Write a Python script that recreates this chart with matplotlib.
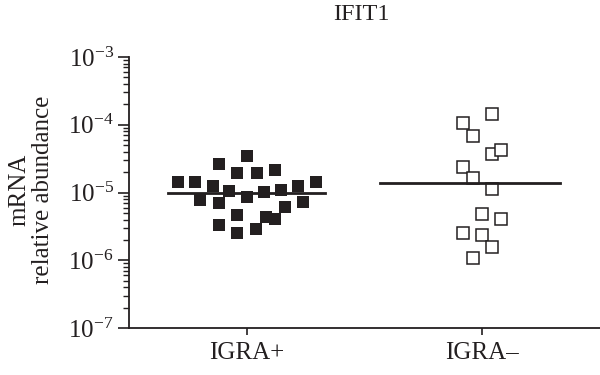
import matplotlib
matplotlib.use("Agg")
import matplotlib.pyplot as plt
import numpy as np
from matplotlib.ticker import LogLocator, NullFormatter, FixedLocator, FixedFormatter

SERIF = 'Liberation Serif'
plt.rcParams['font.family'] = [SERIF, 'DejaVu Serif']
plt.rcParams['mathtext.fontset'] = 'custom'
plt.rcParams['mathtext.rm'] = SERIF
plt.rcParams['mathtext.it'] = SERIF + ':italic'
plt.rcParams['mathtext.default'] = 'rm'

categories = ["IGRA+", "IGRA\u2013"]
title = "IFIT1"
ylabel = "mRNA\nrelative abundance"
ytick_exponents = [-7, -6, -5, -4, -3]

# IGRA+ group (filled squares)
igra_pos_vals = [1.44e-5, 1.44e-5, 1.25e-5, 7.7e-6, 2.64e-5, 6.9e-6, 3.49e-5, 1.96e-5,
                 1.05e-5, 4.66e-6, 3.31e-6, 2.50e-6, 8.67e-6, 1.96e-5, 2.15e-5, 1.01e-5,
                 1.09e-5, 2.86e-6, 4.40e-6, 4.06e-6, 6.17e-6, 7.16e-6, 1.25e-5, 1.44e-5]
igra_pos_jitter = [-0.293, -0.219, -0.144, -0.198, -0.118, -0.118, 0.003, -0.040,
                   -0.074, -0.040, -0.118, -0.040, 0.0, 0.042, 0.120, 0.073,
                   0.147, 0.039, 0.082, 0.120, 0.161, 0.240, 0.219, 0.293]

# IGRA- group (open squares)
igra_neg_vals = [1.44e-4, 1.07e-4, 6.82e-5, 3.70e-5, 4.24e-5, 2.35e-5, 1.65e-5,
                 1.13e-5, 4.82e-6, 4.06e-6, 2.55e-6, 2.36e-6, 1.59e-6, 1.09e-6]
igra_neg_jitter = [0.040, -0.081, -0.041, 0.040, 0.079, -0.081, -0.041,
                   0.040, 0.0, 0.079, -0.081, 0.0, 0.040, -0.041]

medians = [1.0e-5, 1.40e-5]
median_spans = [(-0.334, 0.333), (-0.434, 0.33)]

INK = '#231f20'
FS = 18

fig = plt.figure(figsize=(6, 3.75), dpi=100)
ax = fig.add_axes([0.215, 0.125, 0.785, 0.723])

xs1 = 1 + np.array(igra_pos_jitter)
xs2 = 2 + np.array(igra_neg_jitter)
ax.plot(xs1, igra_pos_vals, 's', color=INK, markersize=9, markeredgewidth=0,
        linestyle='none', zorder=3)
ax.plot(xs2, igra_neg_vals, 's', markerfacecolor='white', markeredgecolor=INK,
        markersize=9, markeredgewidth=1.1, linestyle='none', zorder=3)

for i, (m, (a, b)) in enumerate(zip(medians, median_spans)):
    ax.plot([i + 1 + a, i + 1 + b], [m, m], color=INK, linewidth=2.0, zorder=4)

ax.set_yscale('log')
ax.set_ylim(1e-7, 1e-3)
ax.set_xlim(0.5, 2.5)
ax.set_xticks([1, 2])
ax.set_xticklabels(categories, fontsize=FS, family=SERIF, color=INK)
ax.yaxis.set_major_locator(FixedLocator([10.0 ** e for e in ytick_exponents]))
ax.yaxis.set_major_formatter(FixedFormatter([r'$10^{%d}$' % e for e in ytick_exponents]))
ax.yaxis.set_minor_locator(LogLocator(base=10, subs=np.arange(2, 10), numticks=20))
ax.yaxis.set_minor_formatter(NullFormatter())
ax.tick_params(axis='y', which='major', length=8, width=1.2, labelsize=FS, pad=3,
               color=INK, labelcolor=INK)
ax.tick_params(axis='y', which='minor', length=4.5, width=1.0, color=INK)
ax.tick_params(axis='x', which='major', length=5, width=1.2, labelsize=FS, pad=5,
               color=INK, labelcolor=INK)

for s in ['top', 'right']:
    ax.spines[s].set_visible(False)
for s in ['left', 'bottom']:
    ax.spines[s].set_linewidth(1.3)
    ax.spines[s].set_color(INK)

fig.text(31 / 600, 1 - 190 / 375, ylabel, rotation=90, ha='center', va='center',
         multialignment='center', fontsize=FS, family=SERIF, color=INK, linespacing=1.1)
fig.text(361 / 600, 0.962, title, ha='center', va='center', fontsize=FS - 0.5,
         family=SERIF, color=INK)

fig.savefig("out.png", dpi=100)
